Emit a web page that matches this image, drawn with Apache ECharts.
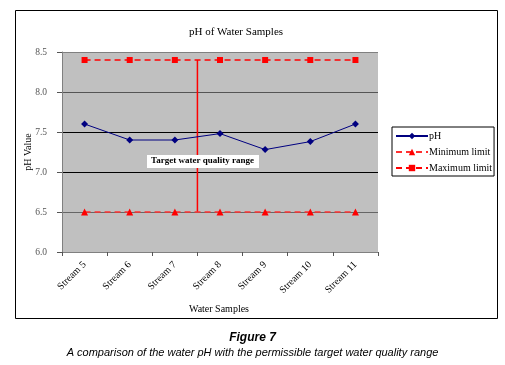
<!DOCTYPE html>
<html>
<head>
<meta charset="utf-8">
<script src="https://cdn.jsdelivr.net/npm/echarts@6/dist/echarts.min.js"></script>
<style>
  html, body { margin: 0; padding: 0; background: #fff; }
  #main { width: 505px; height: 365px; }
</style>
</head>
<body>
<div id="main"></div>
<script>
var samples = ['Stream 5', 'Stream 6', 'Stream 7', 'Stream 8', 'Stream 9', 'Stream 10', 'Stream 11'];
var phValues = [7.6, 7.4, 7.4, 7.48, 7.28, 7.38, 7.6];
var minLimit = [6.5, 6.5, 6.5, 6.5, 6.5, 6.5, 6.5];
var maxLimit = [8.4, 8.4, 8.4, 8.4, 8.4, 8.4, 8.4];
// the vertical marker sits on the boundary after Stream 7
var rangeAt = 3;

var serif = 'Liberation Serif';
var chart = echarts.init(document.getElementById('main'));

var option = {
  animation: false,
  backgroundColor: '#fff',
  title: {
    text: 'pH of Water Samples',
    left: 231, top: 22, textAlign: 'center',
    textStyle: { fontFamily: serif, fontSize: 11, fontWeight: 'normal', color: '#000' }
  },
  legend: {
    orient: 'vertical',
    left: 392, top: 127,
    padding: [4, 2, 3, 3],
    borderColor: '#000', borderWidth: 1,
    itemWidth: 32, itemHeight: 8, itemGap: 6,
    textStyle: { fontFamily: serif, fontSize: 10, color: '#000', padding: [0, 0, 0, -4] },
    data: ['pH', 'Minimum limit', 'Maximum limit']
  },
  grid: {
    left: 62, top: 52, width: 316, height: 200,
    show: true, backgroundColor: '#c0c0c0', borderWidth: 0
  },
  xAxis: [{
    type: 'category',
    data: samples,
    name: 'Water Samples',
    nameLocation: 'middle',
    nameGap: 52,
    nameTextStyle: { fontFamily: serif, fontSize: 10, color: '#000', padding: [0, 0, 0, -2] },
    axisLine: { lineStyle: { color: '#808080' } },
    axisTick: { show: true, length: 4, lineStyle: { color: '#555' } },
    axisLabel: { rotate: 45, margin: 11, fontFamily: serif, fontSize: 10, color: '#000' }
  }, {
    type: 'value', min: 0, max: 7, show: false
  }],
  yAxis: {
    type: 'value',
    min: 6, max: 8.5, interval: 0.5,
    axisLine: { show: true, lineStyle: { color: '#808080' } },
    axisTick: { show: true, length: 5, lineStyle: { color: '#555' } },
    axisLabel: {
      fontFamily: serif, fontSize: 9.5, color: '#555', margin: 15,
      formatter: function (v) { return v.toFixed(1); }
    },
    splitLine: { lineStyle: { width: 1, color: ['#808080', '#666', '#000', '#000', '#555', '#808080'] } }
  },
  series: [{
    name: 'Maximum limit',
    type: 'line',
    data: maxLimit,
    symbol: 'rect', symbolSize: 6,
    color: '#ff0000',
    lineStyle: { color: '#ff0000', width: 1.5, type: [6, 4] },
    itemStyle: { color: '#ff0000' },
    z: 3
  }, {
    name: 'Minimum limit',
    type: 'line',
    data: minLimit,
    symbol: 'triangle', symbolSize: 7,
    color: '#ff0000',
    lineStyle: { color: '#ff3030', width: 1.5, type: [6, 4] },
    itemStyle: { color: '#ff0000' },
    z: 3
  }, {
    name: 'pH',
    type: 'line',
    data: phValues,
    symbol: 'diamond', symbolSize: 7,
    color: '#000080',
    lineStyle: { color: '#000080', width: 1 },
    itemStyle: { color: '#000080' },
    z: 4
  }, {
    name: 'range',
    type: 'line',
    xAxisIndex: 1,
    data: [[rangeAt, maxLimit[rangeAt]], [rangeAt, minLimit[rangeAt]]],
    symbol: 'none',
    color: '#ff0000',
    lineStyle: { color: '#ff0000', width: 1.5 },
    z: 2
  }],
  graphic: [{
    type: 'rect',
    shape: { x: 15.5, y: 10.5, width: 482, height: 308 },
    style: { fill: 'none', stroke: '#000', lineWidth: 1 },
    z: -1
  }, {
    // y axis title
    type: 'text',
    x: 28, y: 152,
    rotation: Math.PI / 2,
    style: { text: 'pH Value', font: '10px "Liberation Serif"', fill: '#000', align: 'center', verticalAlign: 'middle' }
  }, {
    type: 'rect',
    shape: { x: 147, y: 155, width: 112, height: 13 },
    style: { fill: '#fff' },
    z: 10
  }, {
    type: 'text',
    left: 151, top: 156,
    style: { text: 'Target water quality range', font: 'bold 9px "Liberation Serif"', fill: '#000' },
    z: 11
  }, {
    type: 'text',
    left: 'center', top: 332,
    style: { text: 'Figure 7', font: 'bold italic 12px "Liberation Sans"', fill: '#000' }
  }, {
    type: 'text',
    left: 'center', top: 347,
    style: { text: 'A comparison of the water pH with the permissible target water quality range', font: 'italic 11px "Liberation Sans"', fill: '#000' }
  }]
};

chart.setOption(option);
</script>
</body>
</html>
